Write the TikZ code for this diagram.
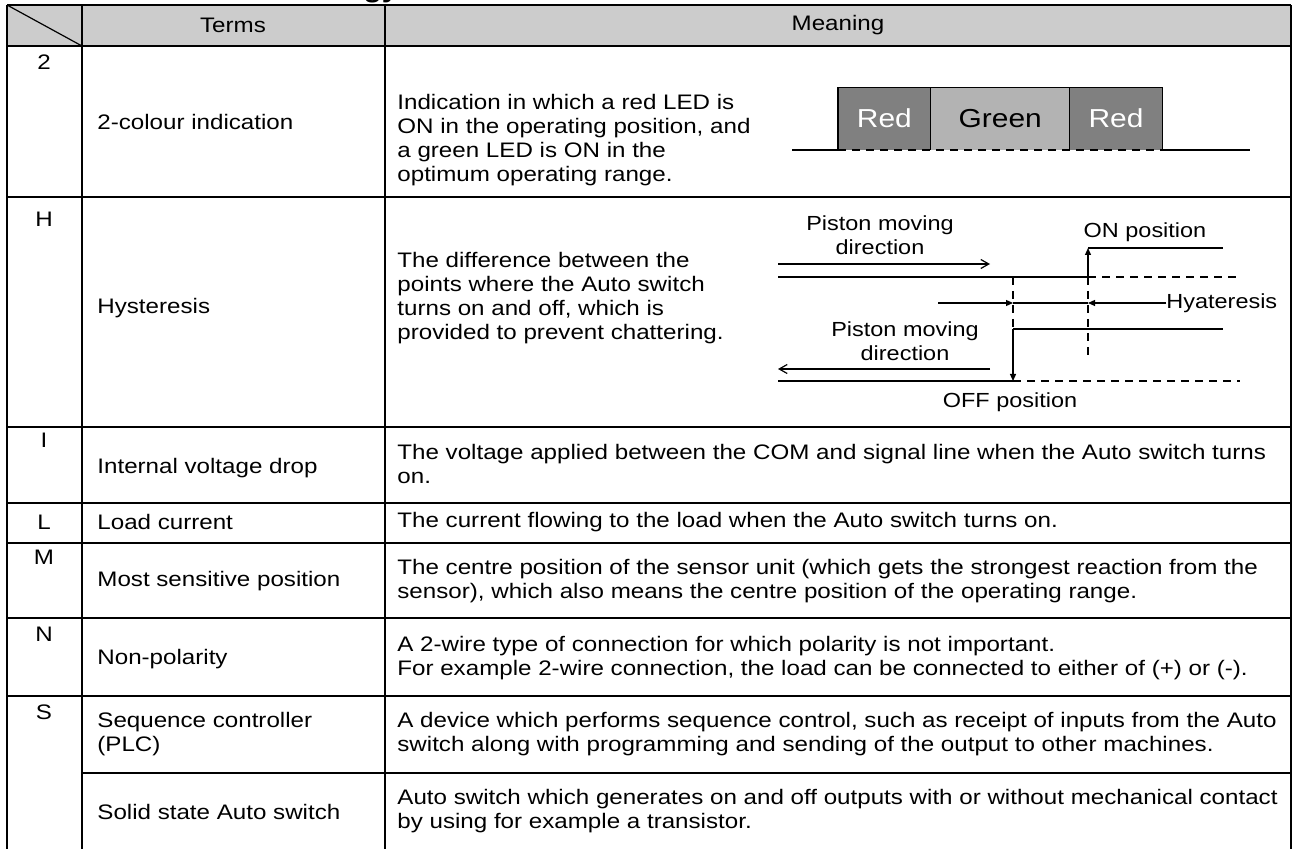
\documentclass[tikz,border=0pt]{standalone}
\usepackage{fontspec}
\setmainfont{Liberation Sans}[FakeStretch=1.15]
\usetikzlibrary{arrows.meta}
\definecolor{headgray}{HTML}{CCCCCC}
\definecolor{redled}{HTML}{808080}
\definecolor{greenled}{HTML}{B3B3B3}
\newcommand\cellfont{\fontsize{10.5}{11.9}\selectfont}
\newcommand\figfont{\fontsize{10.2}{12}\selectfont}
\tikzset{
  grid/.style={line width=1.2pt},
  key/.style={font=\cellfont,inner sep=0pt},
  term/.style={font=\cellfont,inner sep=0pt,anchor=west,align=left},
  mean/.style={font=\cellfont,inner sep=0pt,anchor=west,align=left},
  led/.style={minimum width=46pt,minimum height=31pt,inner sep=0pt,font=\fontsize{13}{15}\selectfont},
  fine/.style={line width=0.6pt},
  fdash/.style={fine,dash pattern=on 4pt off 3pt},
  dirtip/.style={-{Straight Barb[length=4pt,width=4.5pt]}},
  stoptip/.style={-{Triangle[length=3.5pt,width=3pt]}},
  figtext/.style={font=\figfont,inner sep=0pt,align=center}
}

\begin{document}
\begin{tikzpicture}[x=0.5pt,y=-0.5pt]
  \useasboundingbox (0,0) rectangle (1294,849);
  %
  % -- Title, cut off by the top edge
  \node[font=\bfseries\fontsize{13}{16}\selectfont,inner sep=0pt,anchor=base east] (title) at (399,-2) {Terminology};

  % -- Header row and grid
  \fill[headgray] (7,5) rectangle (1291,46);
  \foreach \y in {5,46,197,427,503,543,618,696}
    \draw[grid] (7,\y) -- (1291,\y);
  \draw[grid] (82,773) -- (1291,773);
  \foreach \x in {7,82,385,1291}
    \draw[grid] (\x,5) -- (\x,849);
  \draw[fine] (7,5) -- (82,46);

  \node[key] (hterms) at (233,25) {Terms};
  \node[key] (hmean)  at (838,25) {Meaning};

  % -- Index letters
  \node[key] (k2) at (44,62)  {2};
  \node[key] (kH) at (44,219) {H};
  \node[key] (kI) at (44,440) {I};
  \node[key] (kL) at (44,522) {L};
  \node[key] (kM) at (44,557) {M};
  \node[key] (kN) at (44,634) {N};
  \node[key] (kS) at (44,712) {S};

  % -- Terms
  \node[term] (t2)   at (97,122) {2-colour indication};
  \node[term] (tH)   at (97,308) {Hysteresis};
  \node[term] (tI)   at (97,468) {Internal voltage drop};
  \node[term] (tL)   at (97,522) {Load current};
  \node[term] (tM)   at (97,581) {Most sensitive position};
  \node[term] (tN)   at (97,659) {Non-polarity};
  \node[term] (tS)   at (97,734) {Sequence controller\\(PLC)};
  \node[term] (tSol) at (97,812) {Solid state Auto switch};

  % -- Meanings
  \node[mean] (m2) at (397,140) {Indication in which a red LED is\\ON in the operating position, and\\a green LED is ON in the\\optimum operating range.};
  \node[mean] (mH) at (397,298) {The difference between the\\points where the Auto switch\\turns on and off, which is\\provided to prevent chattering.};
  \node[mean] (mI) at (397,464) {The voltage applied between the COM and signal line when the Auto switch turns\\on.};
  \node[mean] (mL) at (397,522) {The current flowing to the load when the Auto switch turns on.};
  \node[mean] (mM) at (397,581) {The centre position of the sensor unit (which gets the strongest reaction from the\\sensor), which also means the centre position of the operating range.};
  \node[mean] (mN) at (397,658) {A 2-wire type of connection for which polarity is not important.\\For example 2-wire connection, the load can be connected to either of (+) or (-).};
  \node[mean] (mS) at (397,734) {A device which performs sequence control, such as receipt of inputs from the Auto\\switch along with programming and sending of the output to other machines.};
  \node[mean] (mSol) at (397,811) {Auto switch which generates on and off outputs with or without mechanical contact\\by using for example a transistor.};

  % -- 2-colour indication: LED bar
  \node[led,fill=redled,text=white,anchor=south west] (redA) at (838,150) {Red};
  \node[led,fill=greenled,minimum width=69pt,anchor=south west] (green) at (redA.south east) {Green};
  \node[led,fill=redled,text=white,anchor=south west] (redB) at (green.south east) {Red};
  \draw[fine] (redA.south west) -- (redA.north west) -- (redB.north east) -- (redB.south east);
  \draw[fine] (green.south west) -- (green.north west);
  \draw[fine] (green.south east) -- (green.north east);
  \coordinate (barL) at (792,150);
  \coordinate (barR) at (1250,150);
  \draw[fine] (barL) -- (redA.south west);
  \draw[fdash] (redA.south west) -- (redB.south east);
  \draw[fine] (redB.south east) -- (barR);

  % -- Hysteresis: switching positions
  \coordinate (onA)   at (778,277);
  \coordinate (onX)   at (1088,277);
  \coordinate (onE)   at (1240,277);
  \coordinate (onTop) at (1088,248);
  \coordinate (onEnd) at (1223,248);
  \coordinate (offA)  at (778,381);
  \coordinate (offX)  at (1013,381);
  \coordinate (offE)  at (1240,381);
  \coordinate (offTop) at (1013,329);
  \coordinate (offEnd) at (1223,329);
  \coordinate (offMid) at (1013,277);
  \coordinate (onLow)  at (1088,355);

  \draw[fine] (onA) -- (onX);
  \draw[fdash] (onX) -- (onE);
  \draw[fine,stoptip] (onX) -- (onTop);
  \draw[fine] (onTop) -- (onEnd);
  \draw[fdash] (onX) -- (onLow);

  \draw[fine] (offA) -- (offX);
  \draw[fdash] (offX) -- (offE);
  \draw[fdash] (offMid) -- (offTop);
  \draw[fine,stoptip] (offTop) -- (offX);
  \draw[fine] (offTop) -- (offEnd);

  % -- Hysteresis width
  \coordinate (hysL) at (938,303);
  \coordinate (hysA) at (1013,303);
  \coordinate (hysB) at (1088,303);
  \coordinate (hysR) at (1166,303);
  \draw[fine,stoptip] (hysL) -- (hysA);
  \draw[fine] (hysA) -- (hysB);
  \draw[fine,stoptip] (hysR) -- (hysB);
  \node[figtext,anchor=west] (hys) at (hysR) {Hyateresis};

  % -- Piston moving directions
  \coordinate (fwdA) at (778,264);
  \coordinate (fwdB) at (990,264);
  \coordinate (bwdA) at (990,369);
  \coordinate (bwdB) at (778,369);
  \draw[fine,dirtip] (fwdA) -- (fwdB);
  \draw[fine,dirtip] (bwdA) -- (bwdB);
  \node[figtext] (fwd) at (880,235) {Piston moving\\direction};
  \node[figtext] (bwd) at (905,341) {Piston moving\\direction};
  \node[figtext] (onlab)  at (1145,232) {ON position};
  \node[figtext] (offlab) at (1010,402) {OFF position};
\end{tikzpicture}
\end{document}
